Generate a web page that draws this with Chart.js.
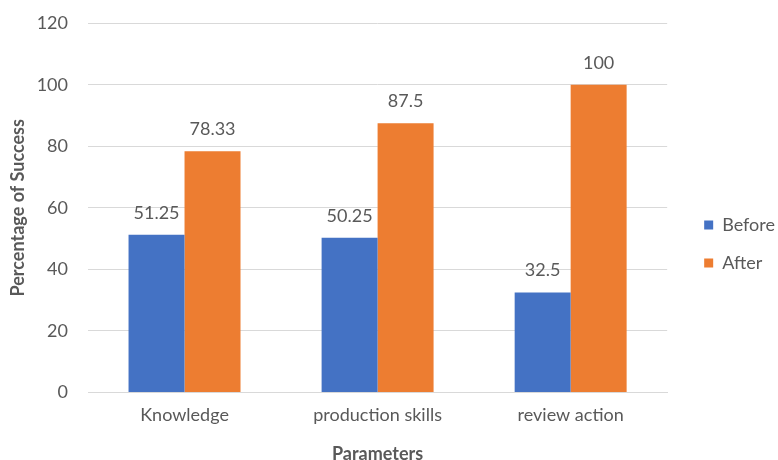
<!DOCTYPE html>
<html>
<head>
<meta charset="utf-8">
<script src="https://cdn.jsdelivr.net/npm/chart.js@4"></script>
<style>
  html, body { margin: 0; padding: 0; background: #fff; }
  #wrap { width: 778px; height: 460px; }
</style>
</head>
<body>
<div id="wrap"><canvas id="c"></canvas></div>
<script>
var categories = ['Knowledge', 'production skills', 'review action'];
var beforeValues = [51.25, 50.25, 32.5];
var afterValues = [78.33, 87.5, 100];
var beforeLabels = ['51.25', '50.25', '32.5'];
var afterLabels = ['78.33', '87.5', '100'];

var textColor = '#595959';
var fontFamily = "Lato, 'Open Sans', sans-serif";

// draws the value above each bar
var valueLabels = {
    id: 'valueLabels',
    afterDatasetsDraw: function (chart) {
        var ctx = chart.ctx;
        ctx.save();
        ctx.fillStyle = textColor;
        ctx.font = '18px ' + fontFamily;
        ctx.textAlign = 'center';
        ctx.textBaseline = 'middle';
        chart.data.datasets.forEach(function (ds, i) {
            chart.getDatasetMeta(i).data.forEach(function (bar, j) {
                ctx.fillText(ds.valueText[j], bar.x, bar.y - 22);
            });
        });
        ctx.restore();
    }
};

new Chart(document.getElementById('c'), {
    type: 'bar',
    data: {
        labels: categories,
        datasets: [
            { label: 'Before', data: beforeValues, valueText: beforeLabels, backgroundColor: '#4472C4' },
            { label: 'After', data: afterValues, valueText: afterLabels, backgroundColor: '#ED7D31' }
        ]
    },
    options: {
        responsive: true,
        maintainAspectRatio: false,
        animation: false,
        layout: { padding: { top: -3, right: -7, bottom: -3, left: 0 } },
        datasets: { bar: { barPercentage: 1, categoryPercentage: 0.58 } },
        plugins: {
            legend: {
                position: 'right',
                title: { display: true, text: '', font: { size: 10 }, padding: 8 },
                labels: {
                    color: textColor,
                    font: { size: 18, family: fontFamily },
                    boxWidth: 9,
                    boxHeight: 9,
                    padding: 20
                }
            },
            tooltip: { enabled: false }
        },
        scales: {
            x: {
                grid: { display: false },
                border: { color: '#d9d9d9' },
                ticks: { color: textColor, font: { size: 18, family: fontFamily }, padding: 4 },
                title: { display: true, text: 'Parameters', color: textColor, font: { size: 18, weight: 'bold', family: fontFamily, lineHeight: 1 }, padding: { top: 15, bottom: 0 } }
            },
            y: {
                min: 0,
                max: 120,
                afterFit: function (scale) { scale.width = 88; },
                // small lineHeight only trims the space reserved above the top label
                ticks: { stepSize: 20, color: textColor, font: { size: 18, family: fontFamily, lineHeight: 0.35 }, padding: 20 },
                grid: { color: '#d9d9d9', drawTicks: false },
                border: { display: false },
                title: { display: true, text: 'Percentage of Success', color: textColor, font: { size: 18, weight: 'bold', family: fontFamily }, padding: { top: 7, bottom: 0 } }
            },
            // empty spacer between plot and legend
            gap: {
                position: 'right',
                display: true,
                afterFit: function (scale) { scale.width = 17; },
                ticks: { display: false },
                grid: { display: false },
                border: { display: false }
            }
        }
    },
    plugins: [valueLabels]
});
</script>
</body>
</html>
